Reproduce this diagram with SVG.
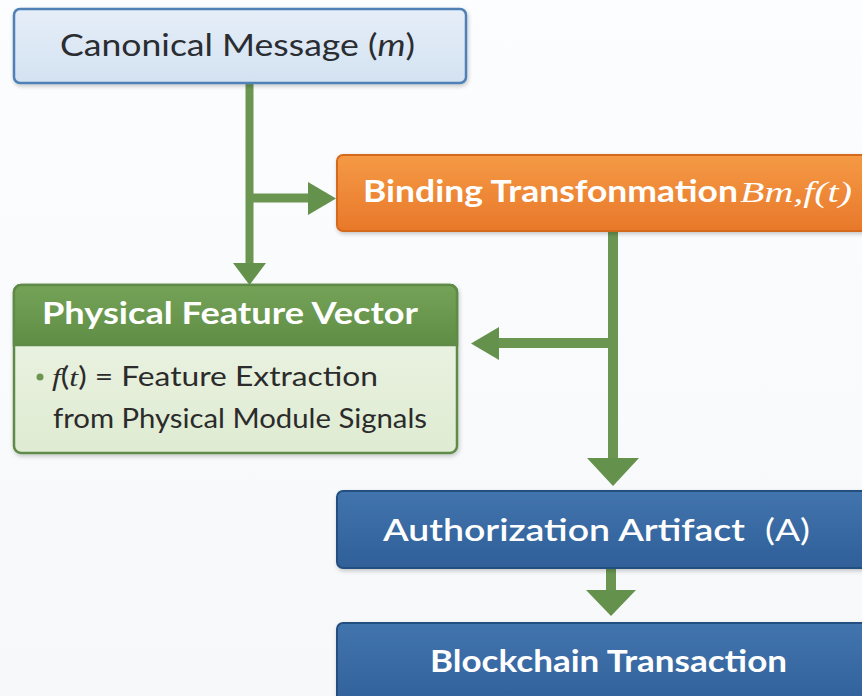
<svg xmlns="http://www.w3.org/2000/svg" width="862" height="696" viewBox="0 0 862 696">
  <defs>
    <linearGradient id="bg" x1="0" y1="0" x2="0" y2="1">
      <stop offset="0" stop-color="#fcfdfe"/>
      <stop offset="1" stop-color="#f6f8fa"/>
    </linearGradient>
    <linearGradient id="gBlueLight" x1="0" y1="0" x2="0" y2="1">
      <stop offset="0" stop-color="#e6eef8"/>
      <stop offset="1" stop-color="#d3e2f1"/>
    </linearGradient>
    <linearGradient id="gOrange" x1="0" y1="0" x2="0" y2="1">
      <stop offset="0" stop-color="#f59a45"/>
      <stop offset="1" stop-color="#e8782a"/>
    </linearGradient>
    <linearGradient id="gGreenHead" x1="0" y1="0" x2="0" y2="1">
      <stop offset="0" stop-color="#74a358"/>
      <stop offset="1" stop-color="#5f8d45"/>
    </linearGradient>
    <linearGradient id="gGreenBody" x1="0" y1="0" x2="0" y2="1">
      <stop offset="0" stop-color="#eef5e7"/>
      <stop offset="1" stop-color="#dfebd2"/>
    </linearGradient>
    <linearGradient id="gBlue" x1="0" y1="0" x2="0" y2="1">
      <stop offset="0" stop-color="#4274ad"/>
      <stop offset="1" stop-color="#2f5f98"/>
    </linearGradient>
    <filter id="shadow" x="-10%" y="-20%" width="120%" height="150%">
      <feDropShadow dx="1" dy="2" stdDeviation="2" flood-color="#000" flood-opacity="0.22"/>
    </filter>
    <style>
      .title { font-family: "Lato", "Open Sans", "Liberation Sans", sans-serif; font-size: 30px; }
      .bold { font-weight: 700; fill: #ffffff; }
      .math { font-family: "Liberation Serif", "DejaVu Serif", serif; font-style: italic; font-weight: 400; }
      .body { font-family: "Lato", "Open Sans", "Liberation Sans", sans-serif; font-size: 26px; fill: #2b2b2b; }
      .wire { fill: none; stroke: #6a9652; stroke-linecap: butt; }
      .head { fill: #64914b; }
    </style>
  </defs>

  <rect x="0" y="0" width="862" height="696" fill="url(#bg)"/>

  <!-- connectors -->
  <g id="connectors">
    <path class="wire" stroke-width="8" d="M249.5 83 V265"/>
    <polygon class="head" points="233,263 266,263 249.5,285"/>
    <path class="wire" stroke-width="9" d="M249.5 198 H310"/>
    <polygon class="head" points="308,182 308,215 336,198.5"/>
    <path class="wire" stroke-width="10" d="M613 231 V460"/>
    <polygon class="head" points="587,458 639,458 613,486"/>
    <path class="wire" stroke-width="10" d="M613 343 H497"/>
    <polygon class="head" points="499,327 499,360 471,343.5"/>
    <path class="wire" stroke-width="10" d="M611 568 V592"/>
    <polygon class="head" points="586,590 636,590 611,616"/>
  </g>

  <!-- canonical message -->
  <g id="canonical-message">
    <rect x="14" y="9" width="452" height="74" rx="6" fill="url(#gBlueLight)" stroke="#5080b6" stroke-width="2.5" filter="url(#shadow)"/>
    <text class="title" x="60" y="56" fill="#2a2d31" textLength="355" lengthAdjust="spacingAndGlyphs">Canonical Message (<tspan font-style="italic">m</tspan>)</text>
  </g>

  <!-- binding transformation -->
  <g id="binding-transformation">
    <rect x="337" y="155" width="540" height="76" rx="6" fill="url(#gOrange)" stroke="#d5691d" stroke-width="2" filter="url(#shadow)"/>
    <text class="title bold" x="363" y="202" font-size="32" textLength="375" lengthAdjust="spacingAndGlyphs">Binding Transfonmation</text>
    <text class="title math" x="740" y="202" font-size="31" fill="#ffffff" textLength="112" lengthAdjust="spacingAndGlyphs">Bm,f(t)</text>
  </g>

  <!-- physical feature vector -->
  <g id="physical-feature-vector">
    <rect x="14" y="285" width="443" height="168" rx="7" fill="url(#gGreenBody)" stroke="#5f8a48" stroke-width="2.5" filter="url(#shadow)"/>
    <path d="M14 345 V292 a7 7 0 0 1 7 -7 H450 a7 7 0 0 1 7 7 V345 Z" fill="url(#gGreenHead)" stroke="#5f8a48" stroke-width="2.5"/>
    <text class="title bold" x="42" y="324" textLength="376" lengthAdjust="spacingAndGlyphs">Physical Feature Vector</text>
    <circle cx="40" cy="377" r="3.5" fill="#6a9652"/>
    <text class="body" x="52" y="386" textLength="326" lengthAdjust="spacingAndGlyphs"><tspan class="math">f</tspan>(<tspan class="math">t</tspan>) = Feature Extraction</text>
    <text class="body" x="53" y="428" textLength="374" lengthAdjust="spacingAndGlyphs">from Physical Module Signals</text>
  </g>

  <!-- authorization artifact -->
  <g id="authorization-artifact">
    <rect x="337" y="491" width="540" height="77" rx="6" fill="url(#gBlue)" stroke="#244f80" stroke-width="2" filter="url(#shadow)"/>
    <text class="title" x="383" y="541" font-weight="600" fill="#ffffff" textLength="362" lengthAdjust="spacingAndGlyphs">Authorization Artifact</text>
    <text class="title" x="765" y="541" font-weight="400" fill="#ffffff" textLength="45" lengthAdjust="spacingAndGlyphs">(A)</text>
  </g>

  <!-- blockchain transaction -->
  <g id="blockchain-transaction">
    <rect x="337" y="623" width="540" height="90" rx="6" fill="url(#gBlue)" stroke="#244f80" stroke-width="2" filter="url(#shadow)"/>
    <text class="title bold" x="430" y="672" textLength="357" lengthAdjust="spacingAndGlyphs">Blockchain Transaction</text>
  </g>
</svg>
